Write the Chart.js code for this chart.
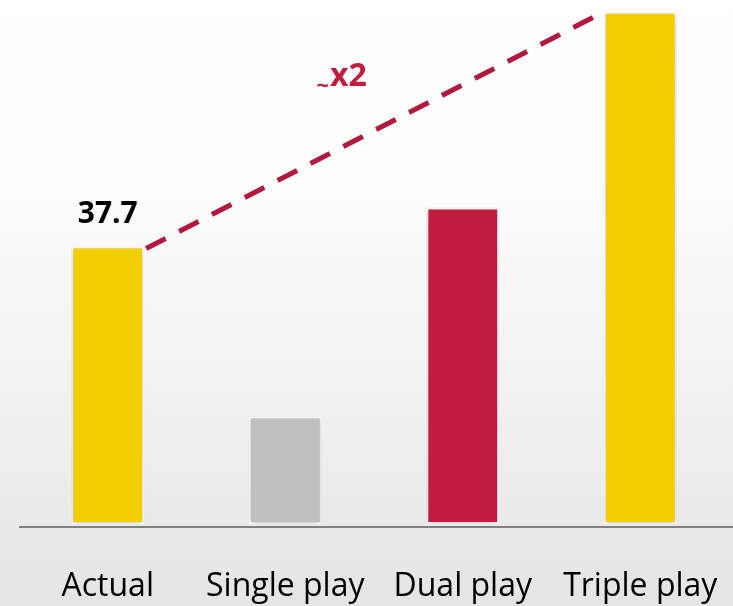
<!DOCTYPE html>
<html>
<head>
<meta charset="utf-8">
<script src="https://cdn.jsdelivr.net/npm/chart.js@4.4.0/dist/chart.umd.min.js"></script>
<style>
  html, body { margin: 0; padding: 0; }
  body {
    width: 733px; height: 606px; overflow: hidden;
    background: linear-gradient(to bottom, #ffffff 0%, #fdfdfd 30%, #ececec 80%, #e4e4e4 100%);
  }
  #wrap { position: relative; width: 733px; height: 606px; }
</style>
</head>
<body>
<div id="wrap"><canvas id="playChart"></canvas></div>
<script>
// --- Data ---
const categories = ["Actual", "Single play", "Dual play", "Triple play"];
const arpuValues = [37.7, 14.6, 43.0, 69.6];
const barColors = ["#F2CE00", "#BFBFBF", "#C21D3F", "#F2CE00"];
const valueLabels = ["37.7", "", "", ""];
const growthLabel = "x2";

const FONT = "'Open Sans', sans-serif";

// bar drop shadow
const shadowPlugin = {
    id: "barShadow",
    beforeDatasetDraw(chart) {
        const ctx = chart.ctx;
        ctx.save();
        ctx.shadowColor = "rgba(0,0,0,0.28)";
        ctx.shadowBlur = 5;
        ctx.shadowOffsetX = 0;
        ctx.shadowOffsetY = 1;
    },
    afterDatasetDraw(chart) {
        chart.ctx.restore();
    }
};

// baseline, category names, value label, dashed growth line and its label
const overlayPlugin = {
    id: "overlay",
    afterDatasetsDraw(chart) {
        const ctx = chart.ctx;
        const area = chart.chartArea;
        const xScale = chart.scales.x;
        const bars = chart.getDatasetMeta(0).data;

        // axis line
        ctx.save();
        ctx.strokeStyle = "#808080";
        ctx.lineWidth = 2;
        ctx.beginPath();
        ctx.moveTo(area.left, area.bottom + 3);
        ctx.lineTo(chart.width, area.bottom + 3);
        ctx.stroke();

        // category names
        ctx.fillStyle = "#000000";
        ctx.font = "32px " + FONT;
        ctx.textAlign = "center";
        ctx.textBaseline = "alphabetic";
        categories.forEach((c, i) => {
            ctx.fillText(c, xScale.getPixelForTick(i), area.bottom + 72);
        });

        // value labels
        ctx.font = "bold 30px " + FONT;
        bars.forEach((bar, i) => {
            if (valueLabels[i]) ctx.fillText(valueLabels[i], bar.x, bar.y - 24);
        });

        // dashed line from Actual to Triple play
        const a = bars[0], b = bars[3];
        const x1 = a.x + a.width / 2 + 2, y1 = a.y + 2;
        const x2 = b.x - b.width / 2 - 2, y2 = b.y + 1;
        ctx.strokeStyle = "#B3183E";
        ctx.lineWidth = 5;
        ctx.setLineDash([22, 15]);
        ctx.beginPath();
        ctx.moveTo(x1, y1);
        ctx.lineTo(x2, y2);
        ctx.stroke();
        ctx.setLineDash([]);

        // "~x2" label above the line
        const mx = (x1 + x2) / 2, my = (y1 + y2) / 2;
        ctx.fillStyle = "#C21D3F";
        ctx.textAlign = "left";
        ctx.font = "bold 32px " + FONT;
        const tx = mx - 44;
        ctx.fillText(growthLabel, tx, my - 45);
        ctx.font = "bold 22px " + FONT;
        ctx.textAlign = "right";
        ctx.fillText("~", tx - 1, my - 38);
        ctx.restore();
    }
};

new Chart(document.getElementById("playChart"), {
    type: "bar",
    data: {
        labels: categories,
        datasets: [{
            data: arpuValues,
            backgroundColor: barColors,
            borderColor: "#ffffff",
            borderWidth: 2,
            borderSkipped: false,
            barPercentage: 0.82,
            categoryPercentage: 0.5
        }]
    },
    options: {
        responsive: true,
        maintainAspectRatio: false,
        animation: false,
        layout: { padding: { left: 19, right: 4, top: 0, bottom: 82 } },
        plugins: { legend: { display: false }, tooltip: { enabled: false } },
        scales: {
            x: { display: false },
            y: { display: false, min: 0, max: 71.2 }
        }
    },
    plugins: [shadowPlugin, overlayPlugin]
});
</script>
</body>
</html>
